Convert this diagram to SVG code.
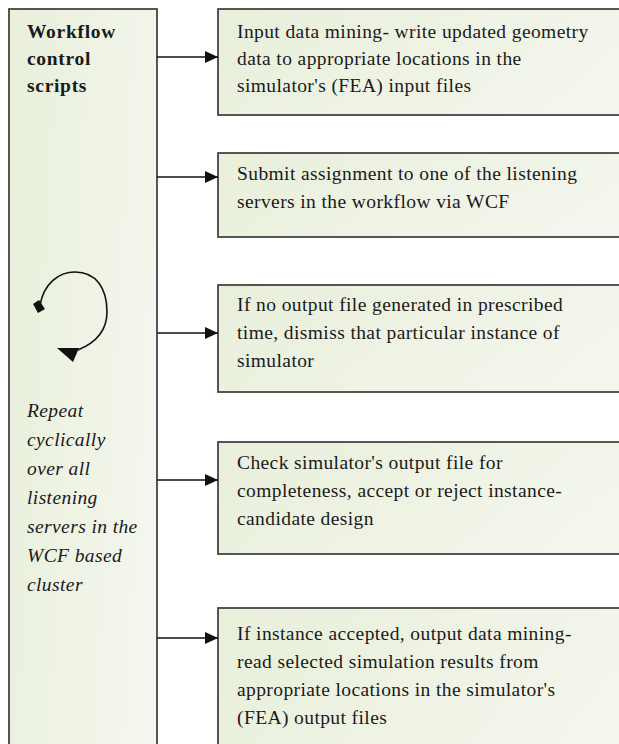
<svg xmlns="http://www.w3.org/2000/svg" width="619" height="744" viewBox="0 0 619 744">
<defs>
<linearGradient id="g" x1="0" y1="0" x2="1" y2="0.3">
<stop offset="0" stop-color="#e8efda"/>
<stop offset="1" stop-color="#f3f6ec"/>
</linearGradient>
<marker id="ah" markerWidth="13" markerHeight="12" refX="13" refY="6" orient="auto" markerUnits="userSpaceOnUse">
<path d="M0,0 L13,6 L0,12 Z" fill="#111"/>
</marker>
<style>
.box{fill:url(#g);stroke:#3a3a3a;stroke-width:1.7}
.t{font-family:"Liberation Serif","Times New Roman",serif;font-size:19.5px;fill:#1a1a1a;letter-spacing:0.4px}
.b{font-weight:bold;letter-spacing:0.7px}
.i{font-style:italic;letter-spacing:0.4px}
.c{stroke:#111;stroke-width:1.6;fill:none}
</style>
</defs>
<g id="control">
<rect class="box" x="9" y="9" width="148" height="760"/>
<text class="t b"><tspan x="27" y="38">Workflow</tspan><tspan x="27" y="65">control</tspan><tspan x="27" y="92">scripts</tspan></text>
<path class="c" d="M40,305 C44,284 58,272 75,272 C96,272 107,288 107,312 C107,332 95,343 78,350"/>
<polygon points="33,304 39,300 45,309 38,313" fill="#111"/>
<polygon points="57,348 79,348 73,362" fill="#111"/>
<text class="t i"><tspan x="27" y="417">Repeat</tspan><tspan x="27" y="446">cyclically</tspan><tspan x="27" y="475">over all</tspan><tspan x="27" y="504">listening</tspan><tspan x="27" y="533">servers in the</tspan><tspan x="27" y="562">WCF based</tspan><tspan x="27" y="591">cluster</tspan></text>
</g>
<g id="step1">
<rect class="box" x="218" y="9" width="420" height="106"/>
<text class="t"><tspan x="237" y="38">Input data mining- write updated geometry</tspan><tspan x="237" y="65">data to appropriate locations in the</tspan><tspan x="237" y="92">simulator's (FEA) input files</tspan></text>
</g>
<g id="step2">
<rect class="box" x="218" y="153" width="420" height="84"/>
<text class="t"><tspan x="237" y="180">Submit assignment to one of the listening</tspan><tspan x="237" y="208">servers in the workflow via WCF</tspan></text>
</g>
<g id="step3">
<rect class="box" x="218" y="285" width="420" height="107"/>
<text class="t"><tspan x="237" y="311">If no output file generated in prescribed</tspan><tspan x="237" y="339">time, dismiss that particular instance of</tspan><tspan x="237" y="367">simulator</tspan></text>
</g>
<g id="step4">
<rect class="box" x="218" y="442" width="420" height="112"/>
<text class="t"><tspan x="237" y="469">Check simulator's output file for</tspan><tspan x="237" y="497">completeness, accept or reject instance-</tspan><tspan x="237" y="525">candidate design</tspan></text>
</g>
<g id="step5">
<rect class="box" x="218" y="608" width="420" height="160"/>
<text class="t"><tspan x="237" y="640">If instance accepted, output data mining-</tspan><tspan x="237" y="668">read selected simulation results from</tspan><tspan x="237" y="696">appropriate locations in the simulator's</tspan><tspan x="237" y="724">(FEA) output files</tspan></text>
</g>
<g id="connectors">
<line class="c" x1="157" y1="57" x2="218" y2="57" marker-end="url(#ah)"/>
<line class="c" x1="157" y1="177" x2="218" y2="177" marker-end="url(#ah)"/>
<line class="c" x1="157" y1="333" x2="218" y2="333" marker-end="url(#ah)"/>
<line class="c" x1="157" y1="480" x2="218" y2="480" marker-end="url(#ah)"/>
<line class="c" x1="157" y1="638" x2="218" y2="638" marker-end="url(#ah)"/>
</g>
</svg>
